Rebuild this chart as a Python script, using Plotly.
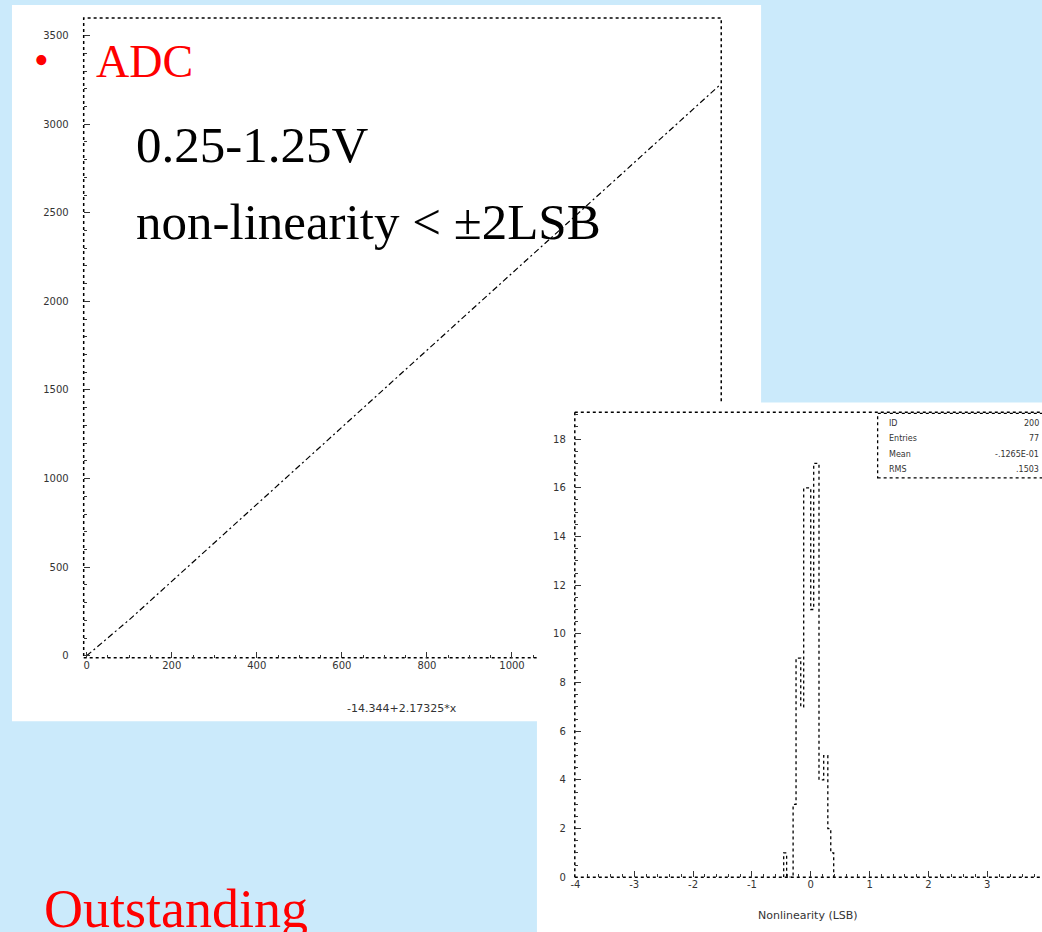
import plotly.graph_objects as go

# ---------------- data ----------------
adc_input = [0, 100, 200, 300, 400, 500, 600, 700, 800, 900, 1000, 1100, 1200, 1300, 1400, 1490]
adc_output = [0, 203, 420, 638, 855, 1072, 1290, 1507, 1724, 1942, 2159, 2376, 2594, 2811, 3028, 3224]
fit_label = "-14.344+2.17325*x"

x1_ticks = [0, 200, 400, 600, 800, 1000]
x1_minor = [50, 100, 150, 250, 300, 350, 450, 500, 550, 650, 700, 750, 850, 900, 950, 1050]
y1_ticks = [0, 500, 1000, 1500, 2000, 2500, 3000, 3500]

resid_edges = [-0.46, -0.41, -0.30, -0.25, -0.17, -0.12, 0.0, 0.05, 0.14, 0.22, 0.29, 0.34, 0.39]
resid_counts = [1, 0, 3, 9, 7, 16, 11, 17, 4, 5, 2, 1]
x2_ticks = [-4, -3, -2, -1, 0, 1, 2, 3]
y2_ticks = [0, 2, 4, 6, 8, 10, 12, 14, 16, 18]
x2_title = "Nonlinearity (LSB)"

stats_names = ["ID", "Entries", "Mean", "RMS"]
stats_values = ["200", "77", "-.1265E-01", ".1503"]

slide_title = "ADC"
slide_lines = ["0.25-1.25V", "non-linearity < \u00b12LSB"]
slide_footer = "Outstanding"

# ---------------- geometry helpers ----------------
W, H = 1042, 932
def px(x):
    return x / W
def py(y):
    return 1 - y / H

BG = "#cbeafb"
RED = "#ff0000"
TICKFONT = dict(family="DejaVu Sans", size=10, color="#333333")

fig = go.Figure()

# plot 1: ADC transfer line
fig.add_trace(go.Scatter(
    x=adc_input, y=adc_output, mode="lines",
    line=dict(color="black", width=1.2, dash="6px,3px,2px,3px"),
    xaxis="x", yaxis="y", showlegend=False, hoverinfo="skip"))

# plot 2: residual histogram as step outline
step_x = [resid_edges[0]] + resid_edges
step_y = [0] + resid_counts + [0]
fig.add_trace(go.Scatter(
    x=step_x, y=step_y, mode="lines", line_shape="hv",
    line=dict(color="black", width=1.3, dash="dot"),
    xaxis="x2", yaxis="y2", showlegend=False, hoverinfo="skip"))

shapes = []
# white panel of plot 1
shapes.append(dict(type="rect", xref="paper", yref="paper", layer="below",
                   x0=px(8), x1=px(760), y0=py(726), y1=py(5),
                   fillcolor="white", line=dict(width=0)))
# frame of plot 1
shapes.append(dict(type="rect", xref="x domain", yref="y domain", layer="below",
                   x0=0, x1=1, y0=0, y1=1, fillcolor="rgba(0,0,0,0)",
                   line=dict(color="black", width=1.5, dash="dot")))
# white panel of plot 2 (covers the lower-right part of plot 1)
shapes.append(dict(type="rect", xref="paper", yref="paper", layer="below",
                   x0=px(535), x1=px(1050), y0=py(940), y1=py(405),
                   fillcolor="white", line=dict(width=0)))
# frame of plot 2 (left, top, bottom)
for s in [dict(x0=0, x1=0, y0=0, y1=1), dict(x0=0, x1=1.02, y0=1, y1=1), dict(x0=0, x1=1.02, y0=0, y1=0)]:
    shapes.append(dict(type="line", xref="x2 domain", yref="y2 domain", layer="below",
                       line=dict(color="black", width=1.5, dash="dot"), **s))
# stats box
shapes.append(dict(type="rect", xref="paper", yref="paper", layer="below",
                   x0=px(877), x1=px(1060), y0=py(481), y1=py(416),
                   fillcolor="white", line=dict(color="black", width=1.3, dash="dot")))

annotations = []
# slide text
annotations.append(dict(text="\u2022", x=px(28), y=py(60), xref="paper", yref="paper",
                        xanchor="left", yanchor="middle", showarrow=False,
                        font=dict(family="Liberation Serif", size=42, color=RED)))
annotations.append(dict(text=slide_title, x=px(90), y=py(62), xref="paper", yref="paper",
                        xanchor="left", yanchor="middle", showarrow=False,
                        font=dict(family="Liberation Serif", size=46, color=RED)))
for i, t in enumerate(slide_lines):
    annotations.append(dict(text=t, x=px(131), y=py(146 + 77 * i), xref="paper", yref="paper",
                            xanchor="left", yanchor="middle", showarrow=False,
                            font=dict(family="Liberation Serif", size=51, color="black")))
annotations.append(dict(text=slide_footer, x=px(38), y=py(915), xref="paper", yref="paper",
                        xanchor="left", yanchor="middle", showarrow=False,
                        font=dict(family="Liberation Serif", size=54, color=RED)))
# axis titles
annotations.append(dict(text=fit_label, x=0.5, y=py(713), xref="x domain", yref="paper",
                        xanchor="center", yanchor="middle", showarrow=False,
                        font=dict(family="DejaVu Sans", size=11, color="#333333")))
annotations.append(dict(text=x2_title, x=px(807), y=py(921), xref="paper", yref="paper",
                        xanchor="center", yanchor="middle", showarrow=False,
                        font=dict(family="DejaVu Sans", size=11, color="#333333")))
# stats box text
for i, (n, v) in enumerate(zip(stats_names, stats_values)):
    yy = py(426 + 15.5 * i)
    annotations.append(dict(text=n, x=px(886), y=yy, xref="paper", yref="paper",
                            xanchor="left", yanchor="middle", showarrow=False,
                            font=dict(family="DejaVu Sans", size=8, color="#333333")))
    annotations.append(dict(text=v, x=px(1041), y=yy, xref="paper", yref="paper",
                            xanchor="right", yanchor="middle", showarrow=False,
                            font=dict(family="DejaVu Sans", size=8, color="#333333")))

fig.update_layout(
    width=W, height=H, margin=dict(l=0, r=0, t=0, b=0),
    paper_bgcolor=BG, plot_bgcolor="rgba(0,0,0,0)",
    shapes=shapes, annotations=annotations,
    xaxis=dict(domain=[px(80), px(720)], range=[-7, 1492], anchor="y",
               tickmode="array", tickvals=x1_ticks, ticktext=[str(v) for v in x1_ticks],
               ticks="inside", ticklen=6, tickwidth=1, tickcolor="#333333",
               minor=dict(tickmode="array", tickvals=x1_minor, ticks="inside", ticklen=3, tickcolor="#333333"),
               showgrid=False, zeroline=False, showline=False, tickfont=TICKFONT),
    yaxis=dict(domain=[py(662), py(18)], range=[-11, 3600], anchor="x",
               tickmode="array", tickvals=y1_ticks, ticktext=[str(v) for v in y1_ticks],
               ticks="inside", ticklen=6, tickwidth=1, tickcolor="#333333",
               minor=dict(dtick=100, ticks="inside", ticklen=3, tickcolor="#333333"),
               ticklabelstandoff=14,
               showgrid=False, zeroline=False, showline=False, tickfont=TICKFONT),
    xaxis2=dict(domain=[px(573), 1.0], range=[-4.01, 3.93], anchor="y2",
                tickmode="array", tickvals=x2_ticks, ticktext=[str(v) for v in x2_ticks],
                ticks="inside", ticklen=6, tickwidth=1, tickcolor="#333333",
                minor=dict(dtick=0.2, ticks="inside", ticklen=3, tickcolor="#333333"),
                showgrid=False, zeroline=False, showline=False, tickfont=TICKFONT),
    yaxis2=dict(domain=[py(883), py(415)], range=[0, 19.1], anchor="x2",
                tickmode="array", tickvals=y2_ticks, ticktext=[str(v) for v in y2_ticks],
                ticks="inside", ticklen=6, tickwidth=1, tickcolor="#333333",
                minor=dict(dtick=0.5, ticks="inside", ticklen=3, tickcolor="#333333"),
                ticklabelstandoff=8,
                showgrid=False, zeroline=False, showline=False, tickfont=TICKFONT),
)

fig.write_html("out.html")
